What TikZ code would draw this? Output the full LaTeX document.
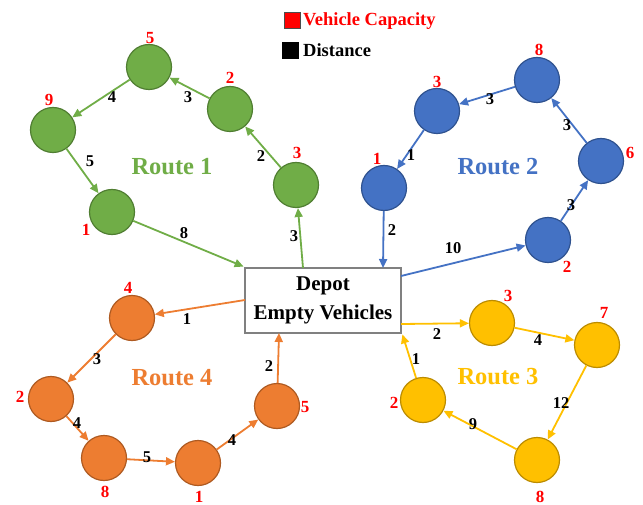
\documentclass[tikz,border=0pt]{standalone}
\usepackage{fontspec}
\setmainfont{Liberation Serif}
\usetikzlibrary{arrows.meta}
\definecolor{gfill}{HTML}{70AD47}\definecolor{gdraw}{HTML}{507E32}
\definecolor{bfill}{HTML}{4472C4}\definecolor{bdraw}{HTML}{2F528F}
\definecolor{ofill}{HTML}{ED7D31}\definecolor{odraw}{HTML}{AE5A21}
\definecolor{yfill}{HTML}{FFC000}\definecolor{ydraw}{HTML}{BC8C00}
\definecolor{capred}{HTML}{FF0000}
\definecolor{boxgray}{HTML}{808080}
\tikzset{
  cust/.style={circle,minimum size=45bp,inner sep=0pt,line width=1.2bp},
  gnode/.style={cust,fill=gfill,draw=gdraw},
  bnode/.style={cust,fill=bfill,draw=bdraw},
  onode/.style={cust,fill=ofill,draw=odraw},
  ynode/.style={cust,fill=yfill,draw=ydraw},
  conn/.style={line width=1.8bp,-{Triangle[length=9bp,width=8bp]}},
  gconn/.style={conn,draw=gfill,fill=gfill},
  bconn/.style={conn,draw=bfill,fill=bfill},
  oconn/.style={conn,draw=ofill,fill=ofill},
  yconn/.style={conn,draw=yfill,fill=yfill},
  capnum/.style={text=capred,font=\fontsize{17bp}{17bp}\selectfont\bfseries,inner sep=0pt},
  dist/.style={text=black,font=\fontsize{16.5bp}{16.5bp}\selectfont\bfseries,inner sep=0pt},
  route/.style={font=\fontsize{24.5bp}{24.5bp}\selectfont\bfseries,inner sep=0pt},
  legtext/.style={font=\fontsize{18.5bp}{18.5bp}\selectfont\bfseries,inner sep=0pt,anchor=west},
}
\begin{document}
\begin{tikzpicture}[x=1bp,y=-1bp]
\useasboundingbox (0,0) rectangle (643,505);
% legend
\node[draw=black!70,fill=capred,minimum size=16bp,inner sep=0pt] (lr) at (292,20) {};
\node[legtext,text=capred] (lrt) at (303,21) {Vehicle Capacity};
\node[fill=black,minimum size=17bp,inner sep=0pt] (lb) at (290.5,50.5) {};
\node[legtext] (lbt) at (303,50) {Distance};
% depot
\node[draw=boxgray,line width=2.8bp,fill=white,minimum width=156bp,minimum height=65bp,align=center,inner sep=0pt,
      font=\fontsize{21bp}{29bp}\selectfont\bfseries] (depot) at (323,300.5) {Depot\\Empty Vehicles};
\coordinate (dg) at (303,268);
\coordinate (db) at (383,268);
\coordinate (dbo) at (401,276);
\coordinate (doo) at (245,300);
\coordinate (dob) at (279,333);
\coordinate (dyo) at (401,324);
% route 1
\node[gnode] (g5) at (149,67) {};
\node[gnode] (g9) at (53,130) {};
\node[gnode] (g1) at (112,212) {};
\node[gnode] (g2) at (230,109) {};
\node[gnode] (g3) at (296,185) {};
\node[capnum] (g5c) at (150,38) {5};
\node[capnum] (g9c) at (49,100) {9};
\node[capnum] (g1c) at (86,230) {1};
\node[capnum] (g2c) at (230,78) {2};
\node[capnum] (g3c) at (297,153) {3};
\node[route,text=gfill] (r1) at (172,167) {Route 1};
\draw[gconn] (dg) -- (g3);
\draw[gconn] (g3) -- (g2);
\draw[gconn] (g2) -- (g5);
\draw[gconn] (g5) -- (g9);
\draw[gconn] (g9) -- (g1);
\draw[gconn] (g1) -- (depot.north west);
\node[dist] (e1a) at (294,236) {3};
\node[dist] (e1b) at (261,156) {2};
\node[dist] (e1c) at (188,97) {3};
\node[dist] (e1d) at (112,97) {4};
\node[dist] (e1e) at (90,161) {5};
\node[dist] (e1f) at (184,233) {8};
% route 2
\node[bnode] (b8) at (537,80) {};
\node[bnode] (b3) at (437,111) {};
\node[bnode] (b1) at (384,188) {};
\node[bnode] (b6) at (601,161) {};
\node[bnode] (b2) at (548,240) {};
\node[capnum] (b8c) at (539,50) {8};
\node[capnum] (b3c) at (437,82) {3};
\node[capnum] (b1c) at (377,159) {1};
\node[capnum] (b6c) at (630,153) {6};
\node[capnum] (b2c) at (567,267) {2};
\node[route,text=bfill] (r2) at (498,167) {Route 2};
\draw[bconn] (dbo) -- (b2);
\draw[bconn] (b2) -- (b6);
\draw[bconn] (b6) -- (b8);
\draw[bconn] (b8) -- (b3);
\draw[bconn] (b3) -- (b1);
\draw[bconn] (b1) -- (db);
\node[dist] (e2a) at (453,248) {10};
\node[dist] (e2b) at (571,205) {3};
\node[dist] (e2c) at (567,125) {3};
\node[dist] (e2d) at (490,99) {3};
\node[dist] (e2e) at (411,155) {1};
\node[dist] (e2f) at (392,230) {2};
% route 4
\node[onode] (o4) at (132,318) {};
\node[onode] (o2) at (51,399) {};
\node[onode] (o8) at (104,458) {};
\node[onode] (o1) at (198,463) {};
\node[onode] (o5) at (277,406) {};
\node[capnum] (o4c) at (128,288) {4};
\node[capnum] (o2c) at (20,397) {2};
\node[capnum] (o8c) at (105,492) {8};
\node[capnum] (o1c) at (199,497) {1};
\node[capnum] (o5c) at (305,407) {5};
\node[route,text=ofill] (r4) at (172,378) {Route 4};
\draw[oconn] (doo) -- (o4);
\draw[oconn] (o4) -- (o2);
\draw[oconn] (o2) -- (o8);
\draw[oconn] (o8) -- (o1);
\draw[oconn] (o1) -- (o5);
\draw[oconn] (o5) -- (dob);
\node[dist] (e4a) at (187,319) {1};
\node[dist] (e4b) at (97,359) {3};
\node[dist] (e4c) at (77,423) {4};
\node[dist] (e4d) at (147,457) {5};
\node[dist] (e4e) at (232,440) {4};
\node[dist] (e4f) at (269,366) {2};
% route 3
\node[ynode] (y3) at (492,323) {};
\node[ynode] (y7) at (597,345) {};
\node[ynode] (y8) at (537,460) {};
\node[ynode] (y2) at (423,400) {};
\node[capnum] (y3c) at (508,296) {3};
\node[capnum] (y7c) at (604,313) {7};
\node[capnum] (y8c) at (540,497) {8};
\node[capnum] (y2c) at (394,403) {2};
\node[route,text=yfill] (r3) at (498,377) {Route 3};
\draw[yconn] (dyo) -- (y3);
\draw[yconn] (y3) -- (y7);
\draw[yconn] (y7) -- (y8);
\draw[yconn] (y8) -- (y2);
\draw[yconn] (y2) -- (depot.south east);
\node[dist] (e3a) at (437,334) {2};
\node[dist] (e3b) at (538,340) {4};
\node[dist] (e3c) at (561,403) {12};
\node[dist] (e3d) at (473,424) {9};
\node[dist] (e3e) at (416,359) {1};
\end{tikzpicture}
\end{document}
